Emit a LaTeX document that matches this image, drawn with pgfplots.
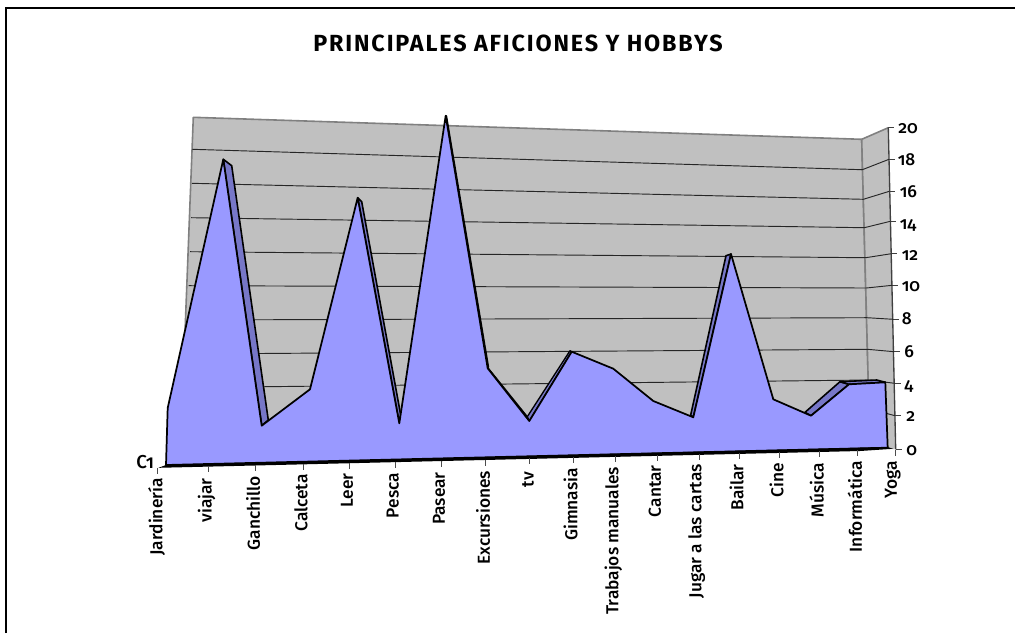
\documentclass[border=0pt]{standalone}
\usepackage{fontspec}
\setmainfont{Fira Sans Medium}[Numbers=OldStyle,BoldFont={Fira Sans Bold}]
\usepackage{pgfplots}
\pgfplotsset{compat=1.18}
\definecolor{wall}{HTML}{C0C0C0}
\definecolor{wallb}{HTML}{808080}
\definecolor{front}{HTML}{9999FF}
\definecolor{side}{HTML}{7777C8}
\begin{document}
\begin{tikzpicture}[x=1pt,y=1pt]
\useasboundingbox (0,0) rectangle (761.25pt,474.75pt);
\begin{axis}[at={(0,0)},anchor=south west,scale only axis,width=761.25pt,height=474.75pt,
  xmin=0,xmax=1015,ymin=0,ymax=633,y dir=reverse,axis lines=none,clip=false,
  every axis plot/.append style={line join=round}]
% frame
\addplot[black,line width=1.5pt,line join=miter] coordinates {(6.5,633)(6.5,7.5)(1015,7.5)};
% back wall
\addplot[fill=wall,draw=wallb,line width=1.2pt] coordinates {(193.3,117.3)(861.7,139.3)(870,447)(180,462)} --cycle;
% side wall
\addplot[fill=wall,draw=none] coordinates {(861.7,139.3)(888.3,127.7)(895.7,449.3)(870,447)} --cycle;
\addplot[wallb,line width=1.2pt] coordinates {(861.7,139.3)(888.3,127.7)};
\addplot[wallb,line width=1.2pt] coordinates {(861.7,139.3)(870,447)};
% right axis and ticks
\addplot[black!75,line width=1pt] coordinates {(888.3,127.7)(895.7,449.3)};
\addplot[black!75,line width=.7pt] coordinates {(888.3,127.7)(894,127.7)};
\addplot[black!75,line width=.7pt] coordinates {(889,159.3)(894.5,159.3)};
\addplot[black!75,line width=.7pt] coordinates {(889.3,191.3)(895,191.3)};
\addplot[black!75,line width=.7pt] coordinates {(890.3,221.3)(896,221.3)};
\addplot[black!75,line width=.7pt] coordinates {(891.3,253.7)(897,253.7)};
\addplot[black!75,line width=.7pt] coordinates {(892.3,285.3)(898,285.3)};
\addplot[black!75,line width=.7pt] coordinates {(893.3,319.3)(899,319.3)};
\addplot[black!75,line width=.7pt] coordinates {(894,351.7)(900,351.7)};
\addplot[black!75,line width=.7pt] coordinates {(894.7,383.3)(901,383.3)};
\addplot[black!75,line width=.7pt] coordinates {(895,415.7)(901,415.7)};
\addplot[black!75,line width=.7pt] coordinates {(895.7,449.3)(902,449.3)};
% gridlines
\addplot[black!85,line width=.7pt] coordinates {(192.3,149.3)(862.3,169.7)(889,159.3)};
\addplot[black!85,line width=.7pt] coordinates {(192,183.3)(863.3,199.3)(889.3,191.3)};
\addplot[black!85,line width=.7pt] coordinates {(191,217.7)(864.3,227.7)(890.3,221.3)};
\addplot[black!85,line width=.7pt] coordinates {(190,251.7)(865.7,257.7)(891.3,253.7)};
\addplot[black!85,line width=.7pt] coordinates {(188.7,285.7)(866.3,288)(892.3,285.3)};
\addplot[black!85,line width=.7pt] coordinates {(187.3,320)(867,317.7)(893.3,319.3)};
\addplot[black!85,line width=.7pt] coordinates {(186,354)(867.7,349.3)(894,351.7)};
\addplot[black!85,line width=.7pt] coordinates {(185,387.6)(868.3,380)(894.7,383.3)};
\addplot[black!85,line width=.7pt] coordinates {(885,413)(895,415.7)};
% visible depth faces of the area
\addplot[fill=side,draw=black,line width=1.2pt] coordinates {(223.3,159.3)(231.7,165.7)(268.3,420)(261.7,425.7)} --cycle;
\addplot[fill=side,draw=black,line width=1.2pt] coordinates {(357.7,197.7)(361.7,201.7)(400.7,415)(399.3,423.3)} --cycle;
\addplot[fill=side,draw=black,line width=1pt] coordinates {(445.7,115.7)(446.5,116)(488.5,367)(487.7,368.3)} --cycle;
\addplot[fill=side,draw=black,line width=1pt] coordinates {(487.7,368.3)(486.5,366)(527.3,416.7)(529.3,421)} --cycle;
\addplot[fill=side,draw=black,line width=1pt] coordinates {(529.3,421)(527.3,416.7)(570,350.7)(571.7,351.7)} --cycle;
\addplot[fill=side,draw=black,line width=1.2pt] coordinates {(693.3,417.3)(690.7,415)(726,255.7)(731,254)} --cycle;
\addplot[fill=side,draw=black,line width=1.2pt] coordinates {(811,415.7)(805,412.3)(840,381.7)(849,384.3)} --cycle;
\addplot[fill=side,draw=black,line width=1.2pt] coordinates {(849,384.3)(840,381.7)(876.7,380)(885.3,382.3)} --cycle;
% front face of the area
\addplot[fill=front,draw=black,line width=1.3pt] coordinates {
 (166,465)(167.7,408)(223.3,159.3)(261.7,425.7)(310,389.3)(357.7,197.7)(399.3,423.3)
 (445.7,115.7)(487.7,368.3)(529.3,421)(571.7,351.7)(613.3,368.7)(653.3,401)(693.3,417.3)
 (731,254)(773.3,399.3)(811,415.7)(849,384.3)(885.3,382.3)(887.7,447.7)} --cycle;
% floor edge
\addplot[fill=black,draw=none] coordinates {(158.5,467.8)(166,465)(887.7,447)(893,448.8)(860,451)} --cycle;
% category ticks
\addplot[black!70,line width=.7pt] coordinates {(157.7,468)(157.7,473.5)};
\addplot[black!70,line width=.7pt] coordinates {(208,466.2)(208,472)};
\addplot[black!70,line width=.7pt] coordinates {(255.7,465)(255.7,471)};
\addplot[black!70,line width=.7pt] coordinates {(303.3,464)(303.3,470)};
\addplot[black!70,line width=.7pt] coordinates {(349.3,463)(349.3,469)};
\addplot[black!70,line width=.7pt] coordinates {(395.7,461.7)(395.7,467.7)};
\addplot[black!70,line width=.7pt] coordinates {(441.3,460.6)(441.3,466.6)};
\addplot[black!70,line width=.7pt] coordinates {(485.7,459.5)(485.7,465.5)};
\addplot[black!70,line width=.7pt] coordinates {(529.3,458.4)(529.3,464.4)};
\addplot[black!70,line width=.7pt] coordinates {(573.7,457.3)(573.7,463.3)};
\addplot[black!70,line width=.7pt] coordinates {(615.7,456.3)(615.7,462.3)};
\addplot[black!70,line width=.7pt] coordinates {(657.3,455.3)(657.3,461.3)};
\addplot[black!70,line width=.7pt] coordinates {(699.3,454.3)(699.3,460.3)};
\addplot[black!70,line width=.7pt] coordinates {(739.3,453.3)(739.3,459.3)};
\addplot[black!70,line width=.7pt] coordinates {(779.3,452.3)(779.3,458.3)};
\addplot[black!70,line width=.7pt] coordinates {(819.3,451.3)(819.3,457.3)};
\addplot[black!70,line width=.7pt] coordinates {(857.3,450.4)(857.3,456.4)};
\addplot[black!70,line width=.7pt] coordinates {(895.3,449.5)(895.3,455.5)};
% texts
\node[font=\fontsize{17.5pt}{20pt}\selectfont\bfseries\addfontfeatures{LetterSpace=8},anchor=center] at (axis cs:518,43) {PRINCIPALES AFICIONES Y HOBBYS};
\def\xl#1#2#3{\node[font=\fontsize{13pt}{15pt}\selectfont,rotate=90,anchor=east,inner sep=0pt] at (axis cs:#1,#2) {#3};}
\xl{156.7}{478}{Jardinería}
\xl{206.7}{478}{viajar}
\xl{253}{476}{Ganchillo}
\xl{301}{474}{Calceta}
\xl{347}{473}{Leer}
\xl{392.7}{472.7}{Pesca}
\xl{439}{472}{Pasear}
\xl{483}{470.7}{Excursiones}
\xl{528}{471.7}{tv}
\xl{570.7}{468}{Gimnasia}
\xl{613.3}{466.7}{Trabajos manuales}
\xl{655}{465}{Cantar}
\xl{696.7}{464}{Jugar a las cartas}
\xl{736.7}{464}{Bailar}
\xl{776.7}{462.7}{Cine}
\xl{816.7}{462.7}{Música}
\xl{855}{460.7}{Informática}
\xl{892.7}{460.7}{Yoga}
\def\yl#1#2#3{\node[font=\fontsize{13pt}{15pt}\selectfont,anchor=west,inner sep=0pt] at (axis cs:#1,#2) {#3};}
\yl{898}{129}{20}
\yl{897.5}{160}{18}
\yl{899.5}{191.7}{16}
\yl{899.5}{225}{14}
\yl{901.5}{255}{12}
\yl{901.5}{286.7}{10}
\yl{901.7}{319}{8}
\yl{904}{351.7}{6}
\yl{904}{386}{4}
\yl{906}{416.7}{2}
\yl{906}{450.7}{0}
\node[font=\fontsize{14pt}{16pt}\selectfont,anchor=west,inner sep=0pt] at (axis cs:136,461.7) {C1};
\end{axis}
\end{tikzpicture}
\end{document}
